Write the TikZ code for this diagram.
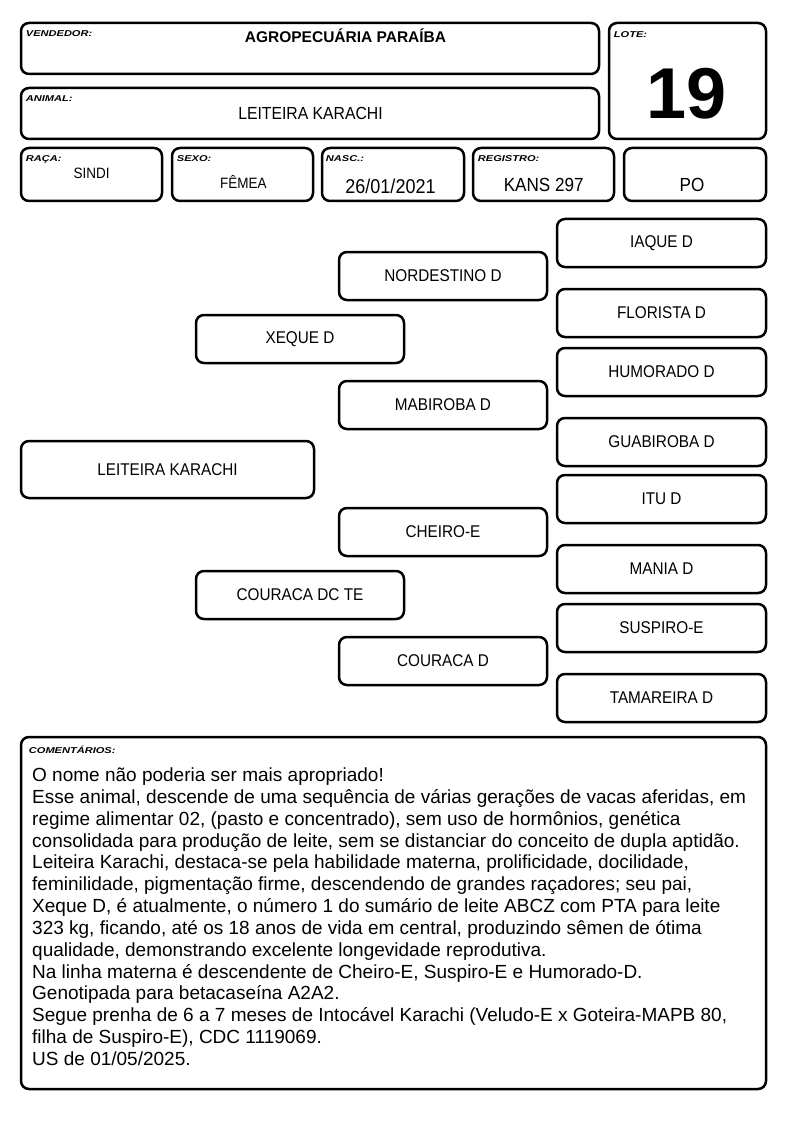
\documentclass[tikz,border=0pt]{standalone}
\usepackage{fontspec}
\setmainfont{Liberation Sans}
\newfontfamily\narrowfont{Liberation Sans}[FakeStretch=0.9]
\newfontfamily\tagfont{Liberation Sans}[FakeStretch=1.3]
\tikzset{
  card/.style={draw=black,line width=2.5pt,rounded corners=8pt,inner sep=0pt},
  tag/.style={anchor=north west,inner sep=0pt,font=\tagfont\fontsize{8.5}{9}\selectfont\bfseries\itshape},
  val/.style={anchor=base,inner sep=0pt,font=\narrowfont\fontsize{#1}{#1}\selectfont},
  ped/.style={card,minimum width=208pt,minimum height=48pt,font=\narrowfont\fontsize{17}{20}\selectfont},
  sire/.style={ped,minimum width=209pt},
}
\begin{document}
\begin{tikzpicture}[x=1pt,y=-1pt]
  \useasboundingbox (0,0) rectangle (794,1123);
  % header
  \node[card,minimum width=578pt,minimum height=51pt] (vend) at (310,48.5) {};
  \node[tag] (vendtag) at ([shift={(6,9)}]vend.north west) {VENDEDOR:};
  \node[anchor=base,inner sep=0pt,font=\bfseries\fontsize{15.5}{16}\selectfont] (vendval) at (345.5,42.5) {AGROPECUÁRIA PARAÍBA};
  \node[card,minimum width=578pt,minimum height=51pt] (anim) at (310,113.5) {};
  \node[tag] (animtag) at ([shift={(6,8.5)}]anim.north west) {ANIMAL:};
  \node[val=17.5] (animval) at (310.5,119.3) {LEITEIRA KARACHI};
  \node[card,minimum width=157pt,minimum height=116pt] (lote) at (687.5,81) {};
  \node[tag] (lotetag) at ([shift={(6,10)}]lote.north west) {LOTE:};
  \node[anchor=base,inner sep=0pt,font=\bfseries\fontsize{72}{72}\selectfont] (loteval) at (687,119) {19};
  \node[card,minimum width=141pt,minimum height=53pt] (raca) at (91.5,174.5) {};
  \node[tag] (racatag) at ([shift={(6,8.5)}]raca.north west) {RAÇA:};
  \node[val=15] (racaval) at (91.7,178.3) {SINDI};
  \node[card,minimum width=141pt,minimum height=53pt] (sexo) at (242.5,174.5) {};
  \node[tag] (sexotag) at ([shift={(6,8.5)}]sexo.north west) {SEXO:};
  \node[val=15] (sexoval) at (243.3,189) {FÊMEA};
  \node[card,minimum width=142pt,minimum height=53pt] (nasc) at (393,174.5) {};
  \node[tag] (nasctag) at ([shift={(5,8.5)}]nasc.north west) {NASC.:};
  \node[val=20] (nascval) at (390.5,193.3) {26/01/2021};
  \node[card,minimum width=141pt,minimum height=53pt] (reg) at (543.5,174.5) {};
  \node[tag] (regtag) at ([shift={(6,8.5)}]reg.north west) {REGISTRO:};
  \node[val=19] (regval) at (543.7,191.7) {KANS 297};
  \node[card,minimum width=142pt,minimum height=53pt] (cat) at (695,174.5) {};
  \node[val=19] (catval) at (692,191.7) {PO};
  % pedigree
  \node[card,minimum width=293pt,minimum height=57pt,font=\narrowfont\fontsize{17}{20}\selectfont] (lk) at (167.5,469.5) {LEITEIRA KARACHI};
  \node[ped] (xeque) at (300,339) {XEQUE D};
  \node[ped] (couracadc) at (300,595) {COURACA DC TE};
  \node[ped] (nordestino) at (443,276) {NORDESTINO D};
  \node[ped] (mabiroba) at (443,405) {MABIROBA D};
  \node[ped] (cheiro) at (443,532) {CHEIRO-E};
  \node[ped] (couracad) at (443,661) {COURACA D};
  \node[sire] (iaque) at (661.5,243) {IAQUE D};
  \node[sire] (florista) at (661.5,313) {FLORISTA D};
  \node[sire] (humorado) at (661.5,372) {HUMORADO D};
  \node[sire] (guabiroba) at (661.5,442) {GUABIROBA D};
  \node[sire] (itu) at (661.5,499) {ITU D};
  \node[sire] (mania) at (661.5,569) {MANIA D};
  \node[sire] (suspiro) at (661.5,628) {SUSPIRO-E};
  \node[sire] (tamareira) at (661.5,698) {TAMAREIRA D};
  % comments
  \node[card,minimum width=745pt,minimum height=352pt] (obs) at (393.5,913) {};
  \node[tag] (obstag) at ([shift={(9,10)}]obs.north west) {COMENTÁRIOS:};
  \node[anchor=north west,inner sep=0pt,align=left,font=\fontsize{19}{21.85}\selectfont] (obstext) at (32,767.5) {%
    O nome não poderia ser mais apropriado!\\
    Esse animal, descende de uma sequência de várias gerações de vacas aferidas, em\\
    regime alimentar 02, (pasto e concentrado), sem uso de hormônios, genética\\
    consolidada para produção de leite, sem se distanciar do conceito de dupla aptidão.\\
    Leiteira Karachi, destaca-se pela habilidade materna, prolificidade, docilidade,\\
    feminilidade, pigmentação firme, descendendo de grandes raçadores; seu pai,\\
    Xeque D, é atualmente, o número 1 do sumário de leite ABCZ com PTA para leite\\
    323 kg, ficando, até os 18 anos de vida em central, produzindo sêmen de ótima\\
    qualidade, demonstrando excelente longevidade reprodutiva.\\
    Na linha materna é descendente de Cheiro-E, Suspiro-E e Humorado-D.\\
    Genotipada para betacaseína A2A2.\\
    Segue prenha de 6 a 7 meses de Intocável Karachi (Veludo-E x Goteira-MAPB 80,\\
    filha de Suspiro-E), CDC 1119069.\\
    US de 01/05/2025.};
\end{tikzpicture}
\end{document}
